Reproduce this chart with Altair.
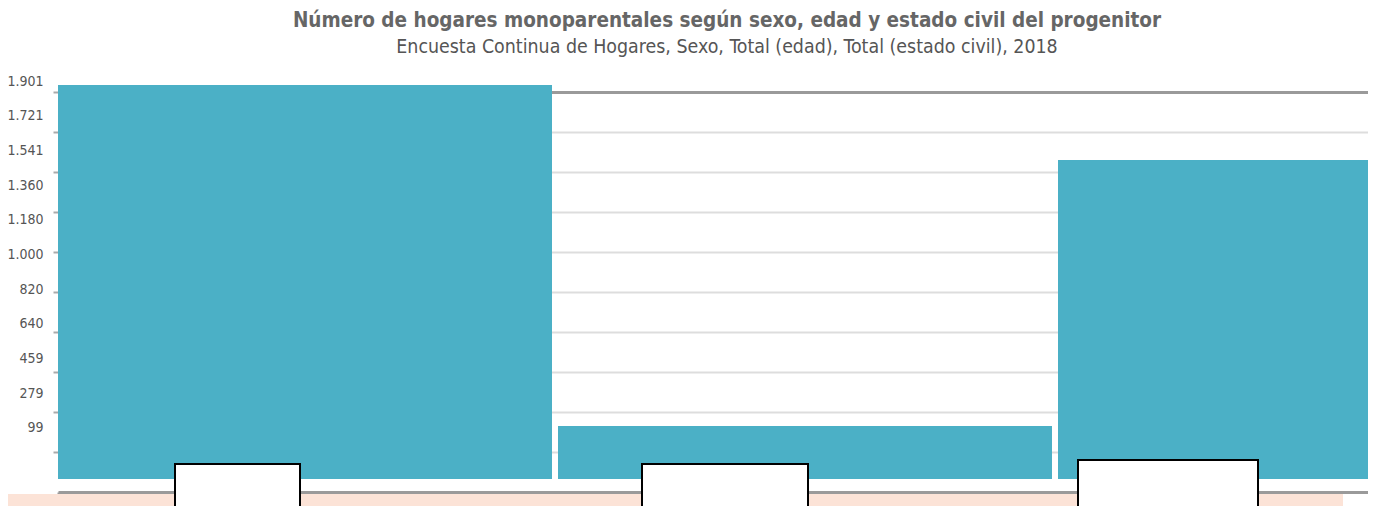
import altair as alt
import pandas as pd

# ---- data ----
categories = ["Ambos sexos", "Hombres", "Mujeres"]
values = [1775, 239, 1437]          # miles de hogares (bar heights)
grid_values = [121.6 + 180.2 * k for k in range(10)]
label_values = [99, 279, 459, 640, 820, 1000, 1180, 1360, 1541, 1721, 1901]

# annotation boxes that hide the category labels (page-pixel units)
box_x0 = [0, 175, 642, 1078]
box_x1 = [1342, 300, 808, 1258]
box_y0 = [495, 464, 464, 460]
box_y1 = [540, 540, 540, 512]
box_fill = ["#FCE3D7", "#FFFFFF", "#FFFFFF", "#FFFFFF"]
box_stroke = ["#FCE3D7", "#000000", "#000000", "#000000"]

FONT = "Liberation Sans Narrow, Arial Narrow, DejaVu Sans Condensed, sans-serif"

bars_df = pd.DataFrame({"cat": categories, "val": values})
labels_df = pd.DataFrame({"v": label_values})
boxes_df = pd.DataFrame({"x0": box_x0, "x1": box_x1, "y0": box_y0, "y1": box_y1,
                         "fill": box_fill, "stroke": box_stroke})

bars = alt.Chart(bars_df).mark_bar(color="#4BB0C6", clip=True).encode(
    x=alt.X("cat:N", sort=categories,
            scale=alt.Scale(range=[0, 1494], paddingInner=0.012, paddingOuter=0),
            axis=alt.Axis(title=None, labels=False, bandPosition=0, tickSize=6,
                          tickColor="#999999", tickWidth=2, domainColor="#9A9A9A",
                          domainWidth=3, grid=False, orient="bottom")),
    y=alt.Y("val:Q", scale=alt.Scale(domain=[-58.6, 1806.5], zero=False, nice=False),
            axis=alt.Axis(title=None, labels=False, values=grid_values, orient="left",
                          tickSize=5, tickColor="#AAAAAA", tickWidth=2, domain=False,
                          grid=True,
                          gridColor={"condition": {"test": "datum.value > 1700", "value": "#9A9A9A"}, "value": "#DDDDDD"},
                          gridWidth={"condition": {"test": "datum.value > 1700", "value": 3}, "value": 2})),
)

label_axis = alt.Chart(labels_df).mark_point(opacity=0).encode(
    y=alt.Y("v:Q", scale=alt.Scale(domain=[-233.4, 1916.6], zero=False, nice=False),
            axis=alt.Axis(title=None, values=label_values, orient="left",
                          labelExpr="replace(format(datum.value, ',d'), ',', '.')",
                          ticks=False, tickSize=0, domain=False, grid=False,
                          labelPadding=15, labelFont=FONT, labelFontSize=14,
                          labelColor="#555555")),
)

boxes = alt.Chart(boxes_df).mark_rect(clip=False, strokeWidth=2).encode(
    x=alt.X("x0:Q", scale=alt.Scale(domain=[58, 1368], nice=False, zero=False), axis=None),
    x2="x1:Q",
    y=alt.Y("y0:Q", scale=alt.Scale(domain=[492, 78], nice=False, zero=False), axis=None),
    y2="y1:Q",
    fill=alt.Fill("fill:N", scale=None),
    stroke=alt.Stroke("stroke:N", scale=None),
)

chart = alt.layer(bars, label_axis, boxes).resolve_scale(
    x="independent", y="independent"
).properties(
    width=1310,
    height=414,
    autosize=alt.AutoSizeParams(type="none"),
    padding={"left": 50, "top": 70, "right": 0, "bottom": 14},
    title=alt.Title(
        text="Número de hogares monoparentales según sexo, edad y estado civil del progenitor",
        subtitle="Encuesta Continua de Hogares, Sexo, Total (edad), Total (estado civil), 2018",
        font=FONT, fontSize=20.5, fontWeight="bold", color="#666666",
        subtitleFont=FONT, subtitleFontSize=19.4, subtitleColor="#555555",
        anchor="middle", frame="group", dx=14, offset=18, subtitlePadding=6,
    ),
).configure(background="#FFFFFF").configure_view(stroke=None)

chart.save("out.html", embed_options={"renderer": "svg", "actions": False})
